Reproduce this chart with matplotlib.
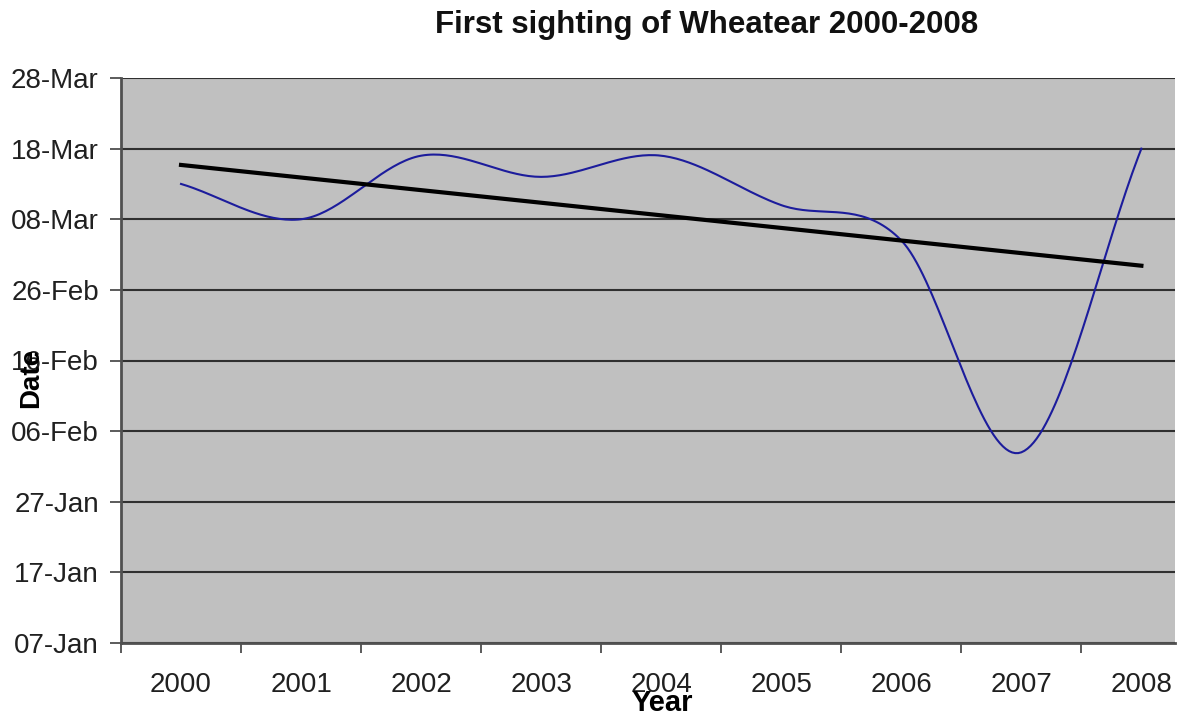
import datetime as dt
import numpy as np
import matplotlib
matplotlib.use("Agg")
import matplotlib.pyplot as plt
import matplotlib.dates as mdates
from matplotlib.ticker import FixedLocator, NullFormatter

plt.rcParams['font.family'] = ['Liberation Sans', 'DejaVu Sans']

# data
years = ['2000', '2001', '2002', '2003', '2004', '2005', '2006', '2007', '2008']
sighting = ['13-Mar', '08-Mar', '17-Mar', '14-Mar', '17-Mar', '10-Mar', '05-Mar', '03-Feb', '18-Mar']
ytick_labels = ['07-Jan', '17-Jan', '27-Jan', '06-Feb', '16-Feb', '26-Feb', '08-Mar', '18-Mar', '28-Mar']


def to_num(s):
    return mdates.date2num(dt.datetime.strptime(s + '-2001', '%d-%b-%Y'))


def smooth(x, y, n=40):
    # catmull-rom, close to what excel does for "smoothed line"
    x = np.asarray(x, float)
    y = np.asarray(y, float)
    px = np.r_[2 * x[0] - x[1], x, 2 * x[-1] - x[-2]]
    py = np.r_[2 * y[0] - y[1], y, 2 * y[-1] - y[-2]]
    xs, ys = [], []
    t = np.linspace(0, 1, n)
    for i in range(1, len(px) - 2):
        for p, out in ((px, xs), (py, ys)):
            p0, p1, p2, p3 = p[i - 1], p[i], p[i + 1], p[i + 2]
            out.extend(0.5 * ((2 * p1) + (-p0 + p2) * t + (2 * p0 - 5 * p1 + 4 * p2 - p3) * t ** 2
                              + (-p0 + 3 * p1 - 3 * p2 + p3) * t ** 3))
    return np.array(xs), np.array(ys)


x = np.arange(len(years))
y = np.array([to_num(s) for s in sighting])
yt = [to_num(s) for s in ytick_labels]

fig = plt.figure(figsize=(11.81, 7.15), dpi=100)
ax = fig.add_axes([121 / 1181, 1 - 643 / 715, 1054 / 1181, 565 / 715])
ax.set_facecolor('#c0c0c0')

sx, sy = smooth(x, y)
ax.plot(sx, sy, color='#1c1c9c', lw=1.5, zorder=3)

# linear trend
k, b = np.polyfit(x, y, 1)
ax.plot([x[0], x[-1]], [k * x[0] + b, k * x[-1] + b], color='black', lw=3, zorder=4)

ax.set_ylim(yt[0], yt[-1])
ax.set_yticks(yt)
ax.set_yticklabels(ytick_labels)
ax.set_xlim(-0.5, 8.28)
ax.grid(axis='y', color='#303030', lw=1.5)
ax.set_axisbelow(True)

ax.xaxis.set_major_locator(FixedLocator(np.arange(len(years) + 1) - 0.5))
ax.xaxis.set_major_formatter(NullFormatter())
ax.set_xticks(x, minor=True)
ax.set_xticklabels(years, minor=True)
ax.tick_params(axis='x', which='major', length=7, width=1.2, color='#404040')
ax.tick_params(axis='x', which='minor', length=0, pad=21, labelsize=20, labelcolor='#202020')
ax.tick_params(axis='y', length=8, width=1.2, color='#404040', pad=8, labelsize=20, labelcolor='#202020')

for side in ('top', 'right'):
    ax.spines[side].set_visible(False)
for side in ('left', 'bottom'):
    ax.spines[side].set_color('#505050')
    ax.spines[side].set_linewidth(2)

fig.text(707 / 1181, 1 - 25 / 715, 'First sighting of Wheatear 2000-2008', ha='center', va='center',
         fontsize=22.5, fontweight='bold', color='#111111')
fig.text(662 / 1181, 1 - 703 / 715, 'Year', ha='center', va='center', fontsize=21, fontweight='bold')
fig.text(31 / 1181, 1 - 378 / 715, 'Date', ha='center', va='center', rotation=90, fontsize=20,
         fontweight='bold')

fig.savefig('out.png', dpi=100)
